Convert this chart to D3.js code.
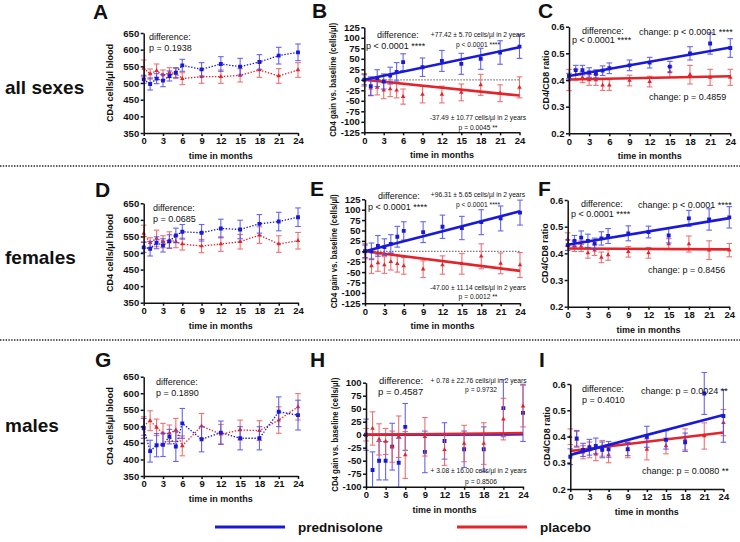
<!DOCTYPE html>
<html><head><meta charset="utf-8">
<script src="https://cdn.jsdelivr.net/npm/d3@7"></script>
<style>body{margin:0;background:#fff}svg{font-family:"Liberation Sans",Arial,sans-serif}</style>
</head><body>
<svg id="c" width="740" height="542"></svg>
<script>
// ---------- data ----------
const months = [0,1,2,3,4,5,6,9,12,15,18,21,24];
const xTicks = [0,3,6,9,12,15,18,21,24];
const cd4Ticks = [350,400,450,500,550,600,650];
const gainTicks = [-125,-100,-75,-50,-25,0,25,50,75,100,125];
const gainTicksMale = [-100,-75,-50,-25,0,25,50,75,100];
const ratioTicks = [0.2,0.3,0.4,0.5,0.6];
const rowLabels = ["all sexes","females","males"];
const seriesNames = ["prednisolone","placebo"];

// A
const cd4AllPred = [511,497,513,507,521,531,553,541,557,549,563,582,592];
const cd4AllPredErr = [12,18,15,18,15,15,18,20,22,25,22,25,25];
const cd4AllPlac = [544,527,537,524,531,529,513,519,519,523,539,521,539];
const cd4AllPlacErr = [25,15,20,15,15,15,18,20,20,20,22,22,22];
// B
const gainAllPred = [0,-15,4,-4,10,19,42,30,45,38,50,65,79];
const gainAllPredErr = [12,22,20,18,20,22,20,22,25,25,25,28,28];
const gainAllPlac = [0,-20,-18,-25,-22,-25,-40,-35,-35,-30,-12,-32,-18];
const gainAllPlacErr = [15,18,18,20,18,18,18,20,20,20,25,20,25];
const gainAllPredFit = [0,77.42];
const gainAllPlacFit = [0,-37.49];
// C
const ratioAllPred = [0.415,0.437,0.437,0.428,0.423,0.435,0.444,0.455,0.465,0.45,0.5,0.537,0.52];
const ratioAllPredErr = [0.01,0.018,0.018,0.018,0.015,0.018,0.02,0.02,0.02,0.02,0.025,0.04,0.035];
const ratioAllPlac = [0.40,0.42,0.41,0.40,0.40,0.381,0.381,0.398,0.394,0.43,0.42,0.41,0.41];
const ratioAllPlacErr = [0.04,0.02,0.02,0.02,0.02,0.02,0.02,0.02,0.02,0.02,0.035,0.03,0.03];
const ratioAllPredFit = [0.415,0.522];
const ratioAllPlacFit = [0.402,0.414];
// D
const cd4FemPred = [517,513,531,523,535,553,564,561,574,571,588,595,608];
const cd4FemPredErr = [15,22,18,20,20,22,22,25,28,28,28,28,28];
const cd4FemPlac = [559,531,544,534,539,534,527,521,527,534,554,527,537];
const cd4FemPlacErr = [25,15,25,18,25,18,18,20,22,22,25,25,25];
// E
const gainFemPred = [0,0,13,10,18,35,49,46,59,56,70,79,93];
const gainFemPredErr = [15,20,25,20,22,25,22,25,28,28,30,30,30];
const gainFemPlac = [0,-35,-28,-33,-25,-30,-35,-43,-33,-30,-12,-29,-33];
const gainFemPlacErr = [18,18,20,20,20,20,20,20,22,25,30,25,30];
const gainFemPredFit = [0,96.31];
const gainFemPlacFit = [0,-47.00];
// F
const ratioFemPred = [0.431,0.447,0.459,0.447,0.437,0.456,0.465,0.475,0.48,0.467,0.531,0.527,0.535];
const ratioFemPredErr = [0.02,0.02,0.025,0.025,0.02,0.025,0.028,0.028,0.022,0.028,0.03,0.04,0.04];
const ratioFemPlac = [0.452,0.427,0.427,0.402,0.412,0.385,0.394,0.406,0.402,0.435,0.435,0.412,0.412];
const ratioFemPlacErr = [0.025,0.02,0.02,0.02,0.02,0.02,0.02,0.02,0.02,0.02,0.03,0.035,0.025];
const ratioFemPredFit = [0.432,0.532];
const ratioFemPlacFit = [0.418,0.415];
// G
const cd4MalePred = [494,425,443,444,469,439,509,461,481,464,464,544,534];
const cd4MalePredErr = [30,33,35,35,22,45,45,38,35,35,35,45,45];
const cd4MalePlac = [501,517,497,479,479,489,441,501,476,489,487,519,559];
const cd4MalePlacErr = [28,30,25,30,25,35,30,38,30,30,30,40,40];
// H
const gainMalePred = [0,-68,-50,-50,-23,-54,15,-33,-12,-28,-28,51,42];
const gainMalePredErr = [30,35,37,37,45,47,45,40,35,35,43,55,55];
const gainMalePlac = [0,12,-9,-13,-23,-4,-39,-4,-29,-17,-17,30,55];
const gainMalePlacErr = [12,32,30,25,30,40,45,37,30,35,40,40,40];
const gainMalePredFit = [0,0.78];
const gainMalePlacFit = [0,3.08];
// I
const ratioMalePred = [0.323,0.393,0.349,0.359,0.364,0.349,0.351,0.352,0.399,0.387,0.378,0.564,0.478];
const ratioMalePredErr = [0.03,0.03,0.025,0.03,0.03,0.03,0.03,0.025,0.04,0.035,0.035,0.08,0.1];
const ratioMalePlac = [0.399,0.389,0.34,0.349,0.333,0.355,0.33,0.349,0.351,0.364,0.389,0.402,0.453];
const ratioMalePlacErr = [0.03,0.03,0.025,0.03,0.025,0.03,0.03,0.03,0.04,0.03,0.04,0.05,0.05];
const ratioMalePredFit = [0.33,0.482];
const ratioMalePlacFit = [0.345,0.415];

// ---------- drawing ----------
const BLUE = "#1a1ad6", BLUE_EB = "#4b4bea", RED = "#e3242b", RED_EB = "#ea5a5e";
const svg = d3.select("#c");

function txt(x, y, s, opt = {}) {
  const fs = opt.size || 9;
  const t = svg.append("text").attr("x", x).attr("y", y + fs * 0.35)
    .attr("font-size", fs).attr("font-weight", opt.bold ? "bold" : "normal")
    .attr("text-anchor", opt.anchor || "start").attr("fill", "#111").text(s);
  if (opt.rot) t.attr("transform", `rotate(-90,${x},${y})`).attr("y", y + fs * 0.35);
  return t;
}

let clipId = 0;
function panel(cfg) {
  const x = d3.scaleLinear().domain([0, 24]).range([cfg.x0, cfg.x1]);
  const y = d3.scaleLinear().domain(cfg.yDomain).range([cfg.y1, cfg.y0]);
  const fmt = cfg.fmt || (d => String(d));
  const cid = "clip" + (clipId++);
  svg.append("clipPath").attr("id", cid).append("rect")
    .attr("x", cfg.x0 - 10).attr("y", cfg.y0 - 12).attr("width", cfg.x1 - cfg.x0 + 20).attr("height", cfg.y1 - cfg.y0 + 12);

  if (cfg.zero) {
    svg.append("line").attr("x1", x(0)).attr("x2", x(24)).attr("y1", y(0)).attr("y2", y(0))
      .attr("stroke", "#777").attr("stroke-width", 1.2).attr("stroke-dasharray", "1.5,1.5");
  }
  const g = svg.append("g").attr("clip-path", `url(#${cid})`);
  cfg.series.forEach(s => {
    const pts = months.map((m, i) => ({ m, v: s.v[i], e: s.e[i] }));
    const c = s.blue ? BLUE : RED, ce = s.blue ? BLUE_EB : RED_EB;
    if (cfg.connect) {
      g.append("path").datum(pts)
        .attr("d", d3.line().x(d => x(d.m)).y(d => y(d.v)))
        .attr("fill", "none").attr("stroke", c).attr("stroke-width", 1.3).attr("stroke-dasharray", "1.4,1.6");
    }
    const eb = g.append("g").attr("stroke", ce).attr("stroke-width", 1.1).attr("opacity", 0.85);
    pts.forEach(d => {
      if (!d.e) return;
      eb.append("line").attr("x1", x(d.m)).attr("x2", x(d.m)).attr("y1", y(d.v - d.e)).attr("y2", y(d.v + d.e));
      [d.v - d.e, d.v + d.e].forEach(v => eb.append("line").attr("x1", x(d.m) - 2.8).attr("x2", x(d.m) + 2.8).attr("y1", y(v)).attr("y2", y(v)));
    });
    if (s.fit) {
      g.append("line").attr("x1", x(0)).attr("x2", x(24)).attr("y1", y(s.fit[0])).attr("y2", y(s.fit[1]))
        .attr("stroke", c).attr("stroke-width", 2.6);
    }
    const sym = d3.symbol().type(s.blue ? d3.symbolSquare : d3.symbolTriangle).size(s.blue ? 15 : 9);
    g.selectAll(null).data(pts).enter().append("path")
      .attr("d", sym).attr("transform", d => `translate(${x(d.m)},${y(d.v)})`).attr("fill", c);
  });

  const ax = svg.append("g").attr("transform", `translate(0,${cfg.y1})`)
    .call(d3.axisBottom(x).tickValues(xTicks).tickSize(3).tickSizeOuter(0).tickPadding(1.5));
  const ay = svg.append("g").attr("transform", `translate(${cfg.x0},0)`)
    .call(d3.axisLeft(y).tickValues(cfg.yTicks).tickFormat(fmt).tickSize(3).tickSizeOuter(0).tickPadding(1.5));
  [ax, ay].forEach(a => {
    a.selectAll("path,line").attr("stroke", "#111").attr("stroke-width", 1.5);
    a.selectAll("text").attr("font-size", 9.5).attr("font-weight", "bold").attr("fill", "#111")
      .attr("font-family", '"Liberation Sans",Arial,sans-serif');
  });
  txt((cfg.x0 + cfg.x1) / 2, cfg.y1 + 23, "time in months", { size: 9, bold: true, anchor: "middle" });
  txt(cfg.ylx, (cfg.y0 + cfg.y1) / 2, cfg.ylabel, { size: 9, bold: true, anchor: "middle", rot: true })
    .attr("textLength", cfg.ylen).attr("lengthAdjust", "spacingAndGlyphs");
  svg.append("text").attr("x", cfg.lx).attr("y", cfg.ly).attr("font-size", 21).attr("font-weight", "bold")
    .attr("fill", "#111").text(cfg.letter);
  (cfg.notes || []).forEach(n => txt(n[0], n[1], n[2], { size: n[3] || 9, anchor: n[4] || "start" }));
}

const cd4Label = "CD4 cells/µl blood", gainLabel = "CD4 gain vs. baseline (cells/µl)", ratioLabel = "CD4/CD8 ratio";
const ratioFmt = d3.format(".1f");

// row 1
panel({ letter: "A", lx: 93, ly: 18.5, x0: 143.7, x1: 298, y0: 33, y1: 133, yDomain: [350, 650], yTicks: cd4Ticks,
  connect: true, ylabel: cd4Label, ylx: 110, ylen: 78,
  series: [{ blue: false, v: cd4AllPlac, e: cd4AllPlacErr }, { blue: true, v: cd4AllPred, e: cd4AllPredErr }],
  notes: [[149, 37, "difference:"], [149, 48, "p = 0.1938"]] });
panel({ letter: "B", lx: 312, ly: 18, x0: 364.3, x1: 519.5, y0: 27.3, y1: 132.3, yDomain: [-125, 125], yTicks: gainTicks,
  zero: true, ylabel: gainLabel, ylx: 333, ylen: 114,
  series: [{ blue: false, v: gainAllPlac, e: gainAllPlacErr, fit: gainAllPlacFit }, { blue: true, v: gainAllPred, e: gainAllPredErr, fit: gainAllPredFit }],
  notes: [[377, 35, "difference:", 9], [366, 45.5, "p <  0.0001 ****", 9],
    [478, 35, "+77.42 ± 5.70 cells/µl in 2 years", 6.7, "middle"], [478, 45, "p < 0.0001 ****", 6.7, "middle"],
    [478, 118, "-37.49 ± 10.77 cells/µl in 2 years", 6.7, "middle"], [478, 128, "p = 0.0045 **", 6.7, "middle"]] });
panel({ letter: "C", lx: 538, ly: 17.5, x0: 569, x1: 730.3, y0: 26.7, y1: 133.3, yDomain: [0.2, 0.6], yTicks: ratioTicks, fmt: ratioFmt,
  ylabel: ratioLabel, ylx: 546, ylen: 60,
  series: [{ blue: false, v: ratioAllPlac, e: ratioAllPlacErr, fit: ratioAllPlacFit }, { blue: true, v: ratioAllPred, e: ratioAllPredErr, fit: ratioAllPredFit }],
  notes: [[582, 30.5, "difference:"], [572, 40, "p <  0.0001 ****"], [639, 32, "change: p <  0.0001 ****"], [649, 96.5, "change: p =  0.4859"]] });

// row 2
panel({ letter: "D", lx: 95, ly: 196.5, x0: 143.7, x1: 298, y0: 203.3, y1: 302.7, yDomain: [350, 650], yTicks: cd4Ticks,
  connect: true, ylabel: cd4Label, ylx: 110, ylen: 78,
  series: [{ blue: false, v: cd4FemPlac, e: cd4FemPlacErr }, { blue: true, v: cd4FemPred, e: cd4FemPredErr }],
  notes: [[153, 207.5, "difference:"], [153, 218.5, "p = 0.0685"]] });
panel({ letter: "E", lx: 310, ly: 196, x0: 365, x1: 520, y0: 199.3, y1: 303.3, yDomain: [-125, 125], yTicks: gainTicks,
  zero: true, ylabel: gainLabel, ylx: 334, ylen: 114,
  series: [{ blue: false, v: gainFemPlac, e: gainFemPlacErr, fit: gainFemPlacFit }, { blue: true, v: gainFemPred, e: gainFemPredErr, fit: gainFemPredFit }],
  notes: [[378, 196, "difference:", 9], [368, 206.5, "p <  0.0001 ****", 9],
    [478, 195, "+96.31 ± 5.65 cells/µl in 2 years", 6.7, "middle"], [478, 205, "p < 0.0001 ****", 6.7, "middle"],
    [478, 288, "-47.00 ± 11.14 cells/µl in 2 years", 6.7, "middle"], [478, 297, "p = 0.0012 **", 6.7, "middle"]] });
panel({ letter: "F", lx: 538, ly: 196, x0: 567.7, x1: 729.3, y0: 200, y1: 306.7, yDomain: [0.2, 0.6], yTicks: ratioTicks, fmt: ratioFmt,
  ylabel: ratioLabel, ylx: 545, ylen: 60,
  series: [{ blue: false, v: ratioFemPlac, e: ratioFemPlacErr, fit: ratioFemPlacFit }, { blue: true, v: ratioFemPred, e: ratioFemPredErr, fit: ratioFemPredFit }],
  notes: [[581, 203.5, "difference:"], [571, 213.5, "p <  0.0001 ****"], [638, 205, "change: p <  0.0001 ****"], [648, 269.5, "change: p =  0.8456"]] });

// row 3
panel({ letter: "G", lx: 95, ly: 366.5, x0: 143.7, x1: 298, y0: 376.7, y1: 476, yDomain: [350, 650], yTicks: cd4Ticks,
  connect: true, ylabel: cd4Label, ylx: 110, ylen: 78,
  series: [{ blue: false, v: cd4MalePlac, e: cd4MalePlacErr }, { blue: true, v: cd4MalePred, e: cd4MalePredErr }],
  notes: [[156, 381.5, "difference:"], [156, 392.5, "p = 0.1890"]] });
panel({ letter: "H", lx: 310, ly: 367, x0: 366, x1: 523, y0: 382.7, y1: 486.7, yDomain: [-100, 100], yTicks: gainTicksMale,
  zero: true, ylabel: gainLabel, ylx: 335, ylen: 114,
  series: [{ blue: true, v: gainMalePred, e: gainMalePredErr, fit: gainMalePredFit }, { blue: false, v: gainMalePlac, e: gainMalePlacErr, fit: gainMalePlacFit }],
  notes: [[379, 380.5, "difference:", 9.5], [378, 392, "p = 0.4587", 9.5],
    [478.5, 380.5, "+ 0.78 ± 22.76 cells/µl in 2 years", 6.7, "middle"], [481, 390, "p = 0.9732", 6.7, "middle"],
    [478.5, 470.5, "+ 3.08 ± 16.00 cells/µl in 2 years", 6.7, "middle"], [481, 481.5, "p = 0.8506", 6.7, "middle"]] });
panel({ letter: "I", lx: 539, ly: 366.5, x0: 570.3, x1: 723.4, y0: 384, y1: 489, yDomain: [0.2, 0.6], yTicks: ratioTicks, fmt: ratioFmt,
  ylabel: ratioLabel, ylx: 547, ylen: 60,
  series: [{ blue: false, v: ratioMalePlac, e: ratioMalePlacErr, fit: ratioMalePlacFit }, { blue: true, v: ratioMalePred, e: ratioMalePredErr, fit: ratioMalePredFit }],
  notes: [[582, 388.5, "difference:"], [582, 399.5, "p = 0.4010"], [641, 390.5, "change: p = 0.0024 **"], [642, 471, "change: p =  0.0080 **"]] });

// row labels
[[87, 0], [257, 1], [425, 2]].forEach(([yy, i]) => txt(5, yy, rowLabels[i], { size: 19, bold: true }));

// separators
[166, 340].forEach(yy => svg.append("line").attr("x1", 0).attr("x2", 740).attr("y1", yy).attr("y2", yy)
  .attr("stroke", "#222").attr("stroke-width", 1.6).attr("stroke-dasharray", "1.4,1.4"));

// legend
[[215, BLUE, 0], [457, RED, 1]].forEach(([lx, c, i]) => {
  svg.append("line").attr("x1", lx).attr("x2", lx + 70).attr("y1", 527).attr("y2", 527).attr("stroke", c).attr("stroke-width", 3.2);
  txt(lx + 83, 527, seriesNames[i], { size: 13.5, bold: true });
});
</script>
</body></html>
